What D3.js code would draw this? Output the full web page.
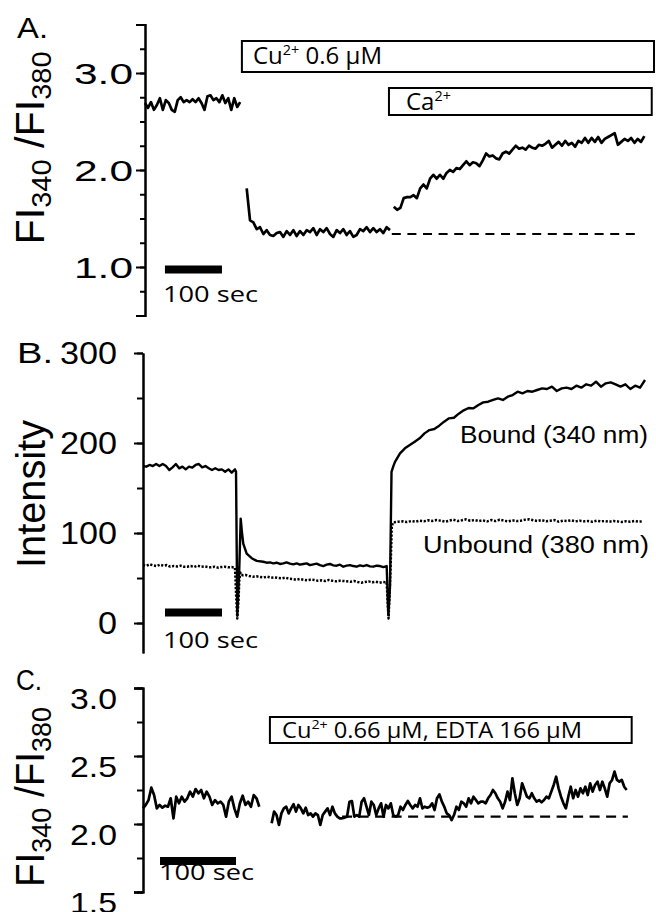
<!DOCTYPE html>
<html>
<head>
<meta charset="utf-8">
<script src="https://cdn.jsdelivr.net/npm/d3@7"></script>
<style>
  html, body { margin: 0; padding: 0; background: #fff; }
  svg { display: block; }
</style>
</head>
<body>
<svg id="fig" width="656" height="912"></svg>
<script>
// ---------------- Panel A: Fura-2 ratio, Cu2+ then Ca2+ ----------------
const aBaseline = [2.69, 2.64, 2.70, 2.62, 2.67, 2.74, 2.62, 2.72, 2.69, 2.62, 2.60, 2.72, 2.75, 2.70, 2.72,
  2.70, 2.73, 2.70, 2.74, 2.69, 2.62, 2.76, 2.77, 2.72, 2.74, 2.70, 2.77, 2.69, 2.74, 2.62, 2.74, 2.65, 2.70];
const aBaselineSpan = [0, 167];
const aCopper = [1.81, 1.48, 1.46, 1.39, 1.41, 1.34, 1.38, 1.33, 1.32, 1.35, 1.36, 1.31, 1.37, 1.33, 1.38,
  1.32, 1.37, 1.33, 1.38, 1.36, 1.40, 1.33, 1.39, 1.36, 1.40, 1.34, 1.31, 1.38, 1.35, 1.39, 1.33, 1.37,
  1.31, 1.33, 1.39, 1.37, 1.41, 1.36, 1.40, 1.36, 1.39, 1.35, 1.41, 1.38];
const aCopperSpan = [178.4, 429.8];
const aCalcium = [1.62, 1.59, 1.61, 1.71, 1.72, 1.72, 1.74, 1.71, 1.81, 1.85,
  1.81, 1.91, 1.95, 1.91, 1.95, 1.91, 1.97, 2.00, 1.98, 2.02,
  2.01, 2.05, 2.09, 2.05, 2.08, 2.07, 2.04, 2.10, 2.17, 2.14,
  2.15, 2.12, 2.11, 2.17, 2.19, 2.17, 2.21, 2.25, 2.22, 2.23,
  2.21, 2.25, 2.23, 2.22, 2.26, 2.25, 2.27, 2.30, 2.23, 2.26,
  2.29, 2.25, 2.30, 2.26, 2.28, 2.24, 2.30, 2.28, 2.33, 2.28,
  2.33, 2.29, 2.34, 2.28, 2.32, 2.34, 2.36, 2.38, 2.26, 2.29,
  2.32, 2.30, 2.33, 2.28, 2.32, 2.29, 2.35];
const aCalciumSpan = [436.5, 876];
const aPlateau = 1.34;
const aPlateauSpan = [433, 870];
const aMajorTicks = [1, 2, 3];
const aTickLabels = ["1.0", "2.0", "3.0"];
const aCuLabel = [["Cu", 0], ["2+", 1], [" 0.6 \u03BCM", 0]];
const aCaLabel = [["Ca", 0], ["2+", 1]];
const aCuSpan = [170, 893];
const aCaSpan = [428, 889];
const aScaleBarStart = 35;

// ---------------- Panel B: 340 nm and 380 nm intensities ----------------
const bBoundBefore = [174.4, 173.7, 175.6, 174.4, 176.7, 174.4, 176.7, 174.4, 170.0, 173.0, 176.7, 171.9,
  173.7, 170.7, 173.7, 172.6, 175.6, 176.7, 173.0, 174.4, 171.9, 170.0, 171.9, 170.0, 170.7, 168.1,
  170.7, 167.0, 170.7];
const bBoundBeforeSpan = [0, 161.4];
const bBoundCuTimes = [163.2, 165.4, 168.9, 171.4, 173.7, 176.0, 181.9, 190.7, 199.5];
const bBoundCuValues = [168, 8, 60, 116, 100, 88, 77, 72, 69];
const bBoundCu = [68.1, 67.0, 67.4, 66.3, 67.0, 65.6, 66.3, 67.4, 66.0, 65.2, 66.3, 64.8, 65.6, 66.3,
  64.4, 65.2, 66.0, 64.4, 63.3, 64.8, 65.6, 64.1, 63.7, 64.8, 62.6, 63.7, 64.4, 63.3, 62.6, 64.1, 63.3,
  64.4, 63.0, 62.6, 63.7, 63.3, 62.2, 63.3];
const bBoundCuSpan = [211, 427.5];
const bBoundCaTimes = [430.4, 433.3, 436.0, 439.1, 442.1];
const bBoundCaValues = [9, 40, 168, 174, 179];
const bBoundCa = [188.5, 194.1, 197.8, 201.5, 205.2, 210.7, 214.4, 215.6, 219.3, 223.7, 227.4, 228.1,
  232.6, 236.3, 238.9, 238.5, 242.2, 245.2, 245.9, 247.8, 249.6, 247.8, 251.5, 253.3, 257.0, 255.2,
  257.8, 257.0, 258.9, 260.7, 260.0, 262.6, 257.8, 260.7, 261.5, 260.0, 263.7, 261.5, 265.2, 263.7,
  268.1, 262.6, 266.3, 267.4, 265.2, 262.6, 265.2, 260.0, 263.7, 261.5, 270.0];
const bBoundCaSpan = [450.9, 880.7];

const bFreeBefore = [64.4, 63.7, 65.2, 64.1, 63.3, 64.8, 63.7, 64.4, 62.6, 63.3, 62.9, 63.7, 62.6, 62.6,
  63.3, 62.2, 63.7, 62.6, 62.9, 62.2, 61.9, 62.6, 61.5, 62.2, 62.6, 61.9, 62.2, 61.5];
const bFreeBeforeSpan = [0, 161.4];
const bFreeCuTimes = [163.5, 165.4, 167.5, 169.0, 171.0, 175.0];
const bFreeCuValues = [30, 5, 25, 48, 56, 53];
const bFreeCu = [53.3, 52.2, 51.5, 51.9, 51.1, 50.7, 51.5, 50.4, 50.7, 50.0, 49.6, 50.4, 49.3, 48.9,
  48.1, 48.9, 48.1, 47.4, 48.1, 47.8, 47.0, 47.4, 46.7, 47.8, 47.0, 46.3, 47.0, 46.7, 46.3, 45.9,
  46.7, 45.6, 44.8, 45.6, 46.3, 45.2, 45.9, 44.8, 45.6, 45.2];
const bFreeCuSpan = [180, 427.5];
const bFreeCaTimes = [429.5, 430.8, 432.5, 434.5, 436.5, 439.0];
const bFreeCaValues = [20, 5, 30, 65, 108, 112];
const bFreeCa = [111.9, 112.6, 113.0, 112.2, 113.3, 112.6, 113.7, 113.0, 114.1, 113.3, 114.4, 113.7,
  112.6, 113.7, 114.8, 113.3, 114.1, 115.2, 113.7, 114.4, 113.3, 114.1, 112.9, 114.4, 113.3, 114.8,
  113.7, 112.9, 114.1, 113.3, 113.7, 114.8, 115.2, 114.1, 113.3, 114.4, 113.0, 113.7, 114.4, 112.6,
  113.7, 113.3, 114.1, 112.9, 113.7, 113.0, 113.3, 112.6, 113.7, 112.9, 113.3, 112.6, 113.3, 112.9,
  112.2, 113.0, 112.6, 113.3, 112.6, 112.9];
const bFreeCaSpan = [441, 877];
const bMajorTicks = [0, 100, 200, 300];
const bTickLabels = ["0", "100", "200", "300"];
const bScaleBarStart = 38.6;

// ---------------- Panel C: ratio with Cu2+ buffered by EDTA ----------------
const cBefore = [2.115, 2.14, 2.176, 2.267, 2.213, 2.115, 2.14, 2.12, 2.135, 2.127, 2.189, 2.042, 2.201,
  2.152, 2.201, 2.164, 2.189, 2.238, 2.201, 2.257, 2.226, 2.25, 2.189, 2.238, 2.201, 2.14, 2.176, 2.152,
  2.164, 2.14, 2.054, 2.164, 2.201, 2.115, 2.054, 2.152, 2.208, 2.14, 2.164, 2.127, 2.213, 2.189, 2.127];
const cBeforeSpan = [0, 153];
const cEdta = [2.005, 2.091, 2.066, 1.993, 2.078, 2.115, 2.127, 2.078, 2.115, 2.145, 2.091, 2.14, 2.115,
  2.078, 2.12, 2.066, 2.078, 2.054, 2.078, 2.066, 1.993, 2.066, 2.091, 2.115, 2.066, 2.127, 2.078, 2.054,
  2.042, 2.042, 2.047, 2.054, 2.164, 2.169, 2.054, 2.066, 2.054, 2.164, 2.189, 2.127, 2.066, 2.164, 2.14,
  2.066, 2.115, 2.152, 2.054, 2.14,
  2.115, 2.152, 2.066, 2.054, 2.066, 2.127, 2.103, 2.14, 2.169, 2.14, 2.115, 2.14, 2.127, 2.189, 2.115,
  2.127, 2.12, 2.127, 2.152, 2.103, 2.189, 2.218, 2.164, 2.127, 2.078, 2.066, 2.029, 2.066, 2.127, 2.103,
  2.164, 2.152, 2.127, 2.189, 2.152, 2.201, 2.176, 2.152, 2.164, 2.164, 2.152, 2.189, 2.213, 2.25, 2.226,
  2.189, 2.164, 2.115, 2.164, 2.238, 2.176, 2.336, 2.226, 2.14, 2.189, 2.299, 2.25, 2.201, 2.189, 2.226,
  2.189, 2.164, 2.176, 2.159, 2.176, 2.201, 2.189, 2.238, 2.287, 2.348, 2.262, 2.201, 2.152, 2.115, 2.201,
  2.274, 2.189, 2.25, 2.201, 2.262, 2.226, 2.274, 2.213, 2.299, 2.238, 2.287, 2.311, 2.25, 2.311, 2.262,
  2.201, 2.299, 2.324, 2.385, 2.324, 2.311, 2.324, 2.274, 2.25];
const cEdtaSpan = [169.3, 636.4];
const cPlateau = 2.054;
const cPlateauSpan = [262, 638];
const cMajorTicks = [1.5, 2.0, 2.5, 3.0];
const cTickLabels = ["1.5", "2.0", "2.5", "3.0"];
const cLabel = [["Cu", 0], ["2+", 1], [" 0.66 \u03BCM, EDTA 166 \u03BCM", 0]];
const cCuSpan = [167, 643];
const cScaleBarStart = 22.4;

// ---------------- helpers ----------------
const SANS = "'Liberation Sans', Arial, sans-serif";
const NOTE = "'Open Sans', 'DejaVu Sans', sans-serif";
const svg = d3.select("#fig");

function evenly(values, span) {
  const [t0, t1] = span, n = values.length;
  return values.map((v, i) => ({ t: t0 + (t1 - t0) * i / (n - 1), v }));
}
function paired(times, values) {
  return times.map((t, i) => ({ t, v: values[i] }));
}

function drawAxis(x0, y, minor, major, minorLen, majorLen, outer) {
  const g = svg.append("g").attr("transform", `translate(${x0},0)`);
  g.append("g").call(d3.axisLeft(y).tickValues(minor).tickSize(minorLen).tickSizeOuter(outer).tickFormat(""));
  g.append("g").call(d3.axisLeft(y).tickValues(major).tickSize(majorLen).tickSizeOuter(outer).tickFormat(""));
  g.selectAll("path.domain").attr("stroke", "#000").attr("stroke-width", 2).attr("fill", "none");
  g.selectAll(".tick line").attr("stroke", "#000").attr("stroke-width", 2);
  return g;
}

function tickLabels(y, values, labels, right, size, lengthOf, dy) {
  values.forEach((v, i) => {
    svg.append("text")
      .attr("x", right).attr("y", y(v) + dy)
      .attr("text-anchor", "end")
      .attr("font-family", SANS).attr("font-size", size)
      .attr("textLength", lengthOf(labels[i]))
      .attr("lengthAdjust", "spacingAndGlyphs")
      .text(labels[i]);
  });
}

function yLabel(cx, cy, parts, length) {
  const t = svg.append("text")
    .attr("transform", `translate(${cx},${cy}) rotate(-90)`)
    .attr("text-anchor", "middle")
    .attr("font-family", SANS).attr("font-size", 40)
    .attr("textLength", length).attr("lengthAdjust", "spacingAndGlyphs");
  parts.forEach(([s, sub]) => {
    t.append("tspan").attr("dy", sub === 1 ? 7 : (sub === -1 ? -7 : 0))
      .attr("font-size", sub === 1 ? 28 : 40).text(s);
  });
}

function ratioLabel(cx, cy, length) {
  yLabel(cx, cy, [["FI", 0], ["340", 1], [" /FI", -1], ["380", 1]], length);
}

function richText(x, y, parts, size, length) {
  const t = svg.append("text").attr("x", x).attr("y", y)
    .attr("font-family", NOTE).attr("font-size", size);
  if (length) t.attr("textLength", length).attr("lengthAdjust", "spacingAndGlyphs");
  let up = false;
  parts.forEach(([s, sup]) => {
    const dy = sup ? -9 : (up ? 9 : 0);
    t.append("tspan").attr("dy", dy).attr("font-size", sup ? size * 0.6 : size).text(s);
    up = !!sup;
  });
}

function box(x, span, top, bottom) {
  svg.append("rect")
    .attr("x", x(span[0])).attr("y", top)
    .attr("width", x(span[1]) - x(span[0])).attr("height", bottom - top)
    .attr("fill", "#fff").attr("stroke", "#000").attr("stroke-width", 2);
}

function scaleBar(x, t0, yc, textX, textY) {
  svg.append("rect").attr("x", x(t0)).attr("y", yc - 4)
    .attr("width", x(t0 + 100) - x(t0)).attr("height", 8).attr("fill", "#000");
  svg.append("text").attr("x", textX).attr("y", textY)
    .attr("font-family", NOTE).attr("font-size", 22)
    .attr("textLength", 95).attr("lengthAdjust", "spacingAndGlyphs")
    .text("100 sec");
}

function trace(x, y, data, width, dash) {
  const line = d3.line().x(d => x(d.t)).y(d => y(d.v));
  const p = svg.append("path").datum(data).attr("d", line)
    .attr("fill", "none").attr("stroke", "#000").attr("stroke-width", width)
    .attr("stroke-linejoin", "round");
  if (dash) p.attr("stroke-dasharray", dash);
  return p;
}

function panelLetter(x, y, s, len) {
  svg.append("text").attr("x", x).attr("y", y)
    .attr("font-family", SANS).attr("font-size", 29)
    .attr("textLength", len).attr("lengthAdjust", "spacingAndGlyphs").text(s);
}

// ---------------- Panel A ----------------
const xA = d3.scaleLinear().domain([0, 900]).range([145, 658]);
const yA = d3.scaleLinear().domain([0.5, 3.5]).range([315.5, 24.5]);
drawAxis(145, yA, d3.range(0.5, 3.5001, 0.25), aMajorTicks, 5, 9, 9);
tickLabels(yA, aMajorTicks, aTickLabels, 133, 29, s => 59, 10.5);
ratioLabel(44, 148, 193);
panelLetter(17, 38, "A.", 31);

box(xA, aCuSpan, 41, 72);
richText(253, 64, aCuLabel, 24, 129);
box(xA, aCaSpan, 88, 115);
richText(406, 110, aCaLabel, 24, null);

trace(xA, yA, evenly(aBaseline, aBaselineSpan), 2.7);
trace(xA, yA, evenly(aCopper, aCopperSpan), 2.7);
trace(xA, yA, evenly(aCalcium, aCalciumSpan), 2.7);
trace(xA, yA, [{ t: aPlateauSpan[0], v: aPlateau }, { t: aPlateauSpan[1], v: aPlateau }], 2.2, "9,6.6");
scaleBar(xA, aScaleBarStart, 269.5, 163, 302);

// ---------------- Panel B ----------------
const xB = d3.scaleLinear().domain([0, 900]).range([143, 656]);
const yB = d3.scaleLinear().domain([-33.3, 300]).range([653, 353]);
drawAxis(143, yB, d3.range(0, 300.1, 50), bMajorTicks, 6, 9, 0);
tickLabels(yB, bMajorTicks, bTickLabels, 117, 31, s => 19 * s.length, 11);
yLabel(45, 494, [["Intensity", 0]], 148);
panelLetter(17, 363, "B.", 36);

const bound = [].concat(
  evenly(bBoundBefore, bBoundBeforeSpan),
  paired(bBoundCuTimes, bBoundCuValues),
  evenly(bBoundCu, bBoundCuSpan),
  paired(bBoundCaTimes, bBoundCaValues),
  evenly(bBoundCa, bBoundCaSpan));
const free = [].concat(
  evenly(bFreeBefore, bFreeBeforeSpan),
  paired(bFreeCuTimes, bFreeCuValues),
  evenly(bFreeCu, bFreeCuSpan),
  paired(bFreeCaTimes, bFreeCaValues),
  evenly(bFreeCa, bFreeCaSpan));
trace(xB, yB, free, 2.5, "2.2,1.6");
trace(xB, yB, bound, 2.4);

svg.append("text").attr("x", 460).attr("y", 443)
  .attr("font-family", SANS).attr("font-size", 23)
  .attr("textLength", 188).attr("lengthAdjust", "spacingAndGlyphs").text("Bound (340 nm)");
svg.append("text").attr("x", 423).attr("y", 553)
  .attr("font-family", SANS).attr("font-size", 23)
  .attr("textLength", 226).attr("lengthAdjust", "spacingAndGlyphs").text("Unbound (380 nm)");
scaleBar(xB, bScaleBarStart, 612.5, 163, 648);

// ---------------- Panel C ----------------
const xC = d3.scaleLinear().domain([0, 650]).range([143, 637]);
const yC = d3.scaleLinear().domain([1.5, 3.0]).range([892, 688]);
drawAxis(143, yC, d3.range(1.5, 3.0001, 0.25), cMajorTicks, 6, 9, 9);
tickLabels(yC, cMajorTicks, cTickLabels, 117, 30, s => 47, 21);
ratioLabel(44, 797, 180);
panelLetter(16, 690, "C.", 26);

box(xC, cCuSpan, 717, 743);
richText(282, 738, cLabel, 22, 300);

trace(xC, yC, evenly(cBefore, cBeforeSpan), 2.7);
trace(xC, yC, evenly(cEdta, cEdtaSpan), 2.7);
trace(xC, yC, [{ t: cPlateauSpan[0], v: cPlateau }, { t: cPlateauSpan[1], v: cPlateau }], 2.2, "10,6.5");
scaleBar(xC, cScaleBarStart, 861, 159, 880);
</script>
</body>
</html>
